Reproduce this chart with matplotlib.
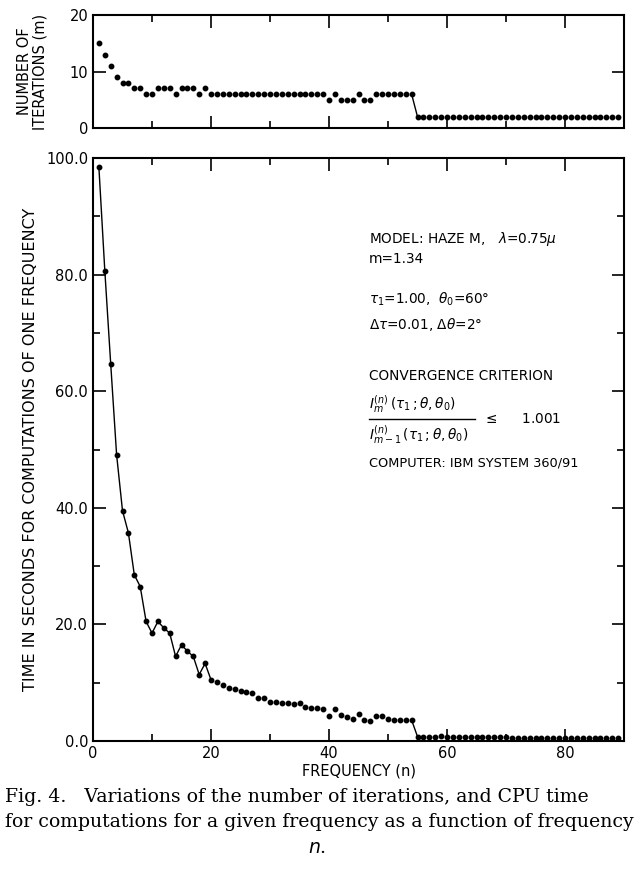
import numpy as np
import matplotlib.pyplot as plt

# frequency index n
n = np.arange(1, 90)

# number of iterations m for each frequency
iterations = ([15, 13, 11, 9, 8, 8, 7, 7, 6, 6, 7, 7, 7, 6, 7, 7, 7, 6, 7]
              + [6] * 20
              + [5, 6, 5, 5, 5, 6, 5, 5]
              + [6] * 7
              + [2] * 35)

# CPU seconds for one frequency
cpu_time = [98.4, 80.7, 64.7, 49.1, 39.5, 35.7, 28.5, 26.5, 20.5, 18.5,
            20.5, 19.4, 18.5, 14.5, 16.5, 15.4, 14.5, 11.4, 13.3, 10.5,
            10.1, 9.55, 9.15, 8.9, 8.6, 8.35, 8.2, 7.4, 7.4, 6.7,
            6.7, 6.6, 6.6, 6.3, 6.6, 5.8, 5.6, 5.6, 5.55, 4.35,
            5.5, 4.5, 4.05, 3.8, 4.6, 3.6, 3.5, 4.3, 4.25, 3.75,
            3.65, 3.6, 3.6, 3.6, 0.75,
            0.75, 0.75, 0.75, 0.8, 0.75, 0.75, 0.7, 0.7, 0.7, 0.7,
            0.65, 0.65, 0.65, 0.65, 0.65, 0.6, 0.6, 0.6, 0.6, 0.6,
            0.6, 0.55, 0.55, 0.55, 0.55, 0.55, 0.55, 0.5, 0.5, 0.5,
            0.5, 0.5, 0.45, 0.45]

x_ticks = [0, 20, 40, 60, 80]
y_ticks_main = [0, 20, 40, 60, 80, 100]
y_ticks_top = [0, 10, 20]

plt.rcParams['font.family'] = 'DejaVu Sans'
plt.rcParams['mathtext.fontset'] = 'dejavusans'

fig = plt.figure(figsize=(6.34, 8.75), dpi=100)
ax_top = fig.add_axes([93/634, 1-128/875, 531/634, 113/875])
ax = fig.add_axes([93/634, 1-741/875, 531/634, 583/875])

n = np.asarray(n)
iterations = np.asarray(iterations)
cpu_time = np.asarray(cpu_time)


def style(a):
    for s in a.spines.values():
        s.set_linewidth(1.5)
    a.tick_params(which='both', direction='in', top=True, right=True,
                  width=1.2, labelsize=10.5)
    a.tick_params(which='major', length=9)
    a.tick_params(which='minor', length=5)
    a.set_xlim(0, 90)
    a.set_xticks(x_ticks)
    a.set_xticks(np.arange(10, 90, 20), minor=True)


#top panel: iterations
ax_top.plot(n, iterations, 'o', color='black', markersize=3.2)
ax_top.plot(n[53:55], iterations[53:55], '-', color='black', lw=1)
style(ax_top)
ax_top.set_ylim(0, 20)
ax_top.set_yticks(y_ticks_top)
ax_top.set_xticklabels([])
ax_top.set_ylabel('NUMBER OF\nITERATIONS (m)', fontsize=10.5, labelpad=16,
                  linespacing=1.0)

#main panel: cpu time
ax.plot(n, cpu_time, 'o', color='black', markersize=3.2)
ax.plot(n[:20], cpu_time[:20], '-', color='black', lw=1)
ax.plot(n[53:55], cpu_time[53:55], '-', color='black', lw=1)
style(ax)
ax.set_ylim(0, 100)
ax.set_yticks(y_ticks_main)
ax.set_yticklabels([f'{v:.1f}' for v in y_ticks_main])
ax.set_yticks(np.arange(10, 100, 20), minor=True)
ax.set_xlabel('FREQUENCY (n)', fontsize=10.5, labelpad=2)
ax.set_ylabel('TIME IN SECONDS FOR COMPUTATIONS OF ONE FREQUENCY',
              fontsize=11.5, labelpad=6)

# annotation block
tx = 0.52
fs = 9.8
ax.text(tx, 0.855, r'MODEL: HAZE M,   $\lambda$=0.75$\mu$', transform=ax.transAxes,
        fontsize=fs)
ax.text(tx, 0.82, 'm=1.34', transform=ax.transAxes, fontsize=fs)
ax.text(tx, 0.75, r'$\tau_1$=1.00,  $\theta_0$=60°', transform=ax.transAxes,
        fontsize=fs)
ax.text(tx, 0.707, r'$\Delta\tau$=0.01, $\Delta\theta$=2°', transform=ax.transAxes,
        fontsize=fs)
ax.text(tx, 0.62, 'CONVERGENCE CRITERION', transform=ax.transAxes, fontsize=fs)
ax.text(tx, 0.578, r'$I_m^{(n)}\,(\tau_1\,;\theta,\theta_0)$',
        transform=ax.transAxes, fontsize=fs, va='center')
ax.plot([tx, tx + 0.2], [0.553, 0.553], color='black', lw=1,
        transform=ax.transAxes)
ax.text(tx, 0.526, r'$I_{m-1}^{(n)}\,(\tau_1\,;\theta,\theta_0)$',
        transform=ax.transAxes, fontsize=fs, va='center')
ax.text(0.735, 0.553, r'$\leq$     1.001', transform=ax.transAxes, fontsize=fs,
        va='center')
ax.text(tx, 0.47, 'COMPUTER: IBM SYSTEM 360/91', transform=ax.transAxes,
        fontsize=9.3)

# caption
cap = dict(family='DejaVu Serif', fontsize=13.6)
fig.text(0.008, 1-797/875, 'Fig. 4.   Variations of the number of iterations, and CPU time',
         va='center', **cap)
fig.text(0.008, 1-822/875, 'for computations for a given frequency as a function of frequency',
         va='center', **cap)
fig.text(0.5, 1-848/875, r'$n$.', va='center', ha='center',
         family='DejaVu Serif', fontsize=13.6)

fig.savefig('out.png', dpi=100)
